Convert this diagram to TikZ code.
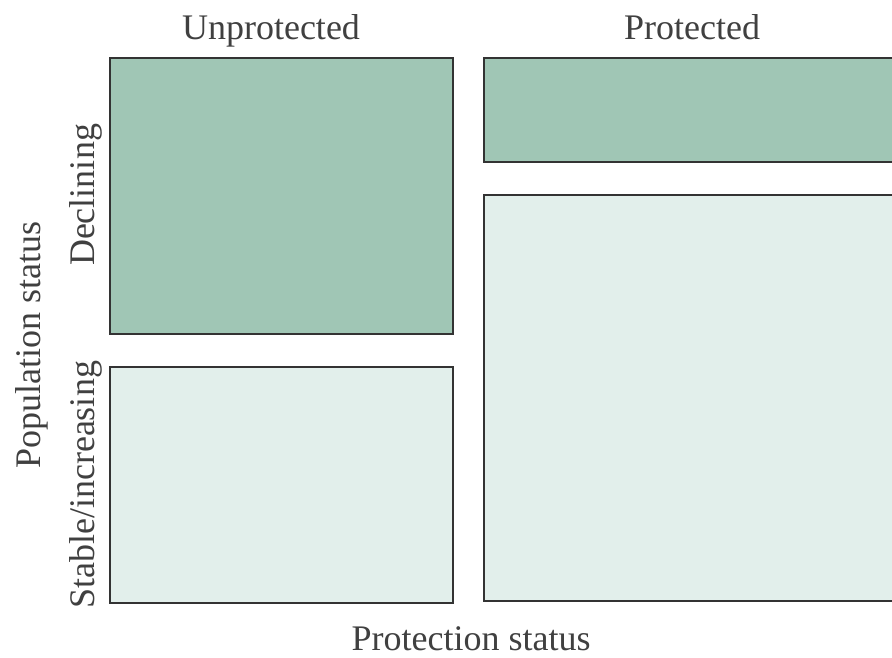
\documentclass[tikz,border=0pt]{standalone}
\usepackage{fontspec}
\setmainfont{Liberation Serif}
\usetikzlibrary{positioning}
\definecolor{declgreen}{RGB}{160,198,181}
\definecolor{stablegreen}{RGB}{226,239,235}

\begin{document}
\begin{tikzpicture}[x=0.5pt,y=-0.5pt,
    cell/.style={draw=black!80, line width=1pt},
    lab/.style={font=\fontsize{18}{21}\selectfont, text=black!75, inner sep=0pt, anchor=base}]
    \useasboundingbox (0,0) rectangle (892,657);
    \draw[cell,fill=declgreen] (110,58) rectangle (453,334); %unprotected, declining
    \draw[cell,fill=stablegreen] (110,367) rectangle (453,603); %unprotected, stable
    \draw[cell,fill=declgreen] (484,58) rectangle (905,162); %protected, declining
    \draw[cell,fill=stablegreen] (484,195) rectangle (905,601); %protected, stable
    \node[lab] (unprot) at (271,40) {Unprotected};
    \node[lab] (prot) at (692,40) {Protected};
    \node[lab] (xtitle) at (471,650) {Protection status};
    \node[lab,rotate=90] (decl) at (94,195) {Declining};
    \node[lab,rotate=90] (stable) at (94,485) {Stable/increasing};
    \node[lab,rotate=90] (ytitle) at (40,345) {Population status};
\end{tikzpicture}
\end{document}
